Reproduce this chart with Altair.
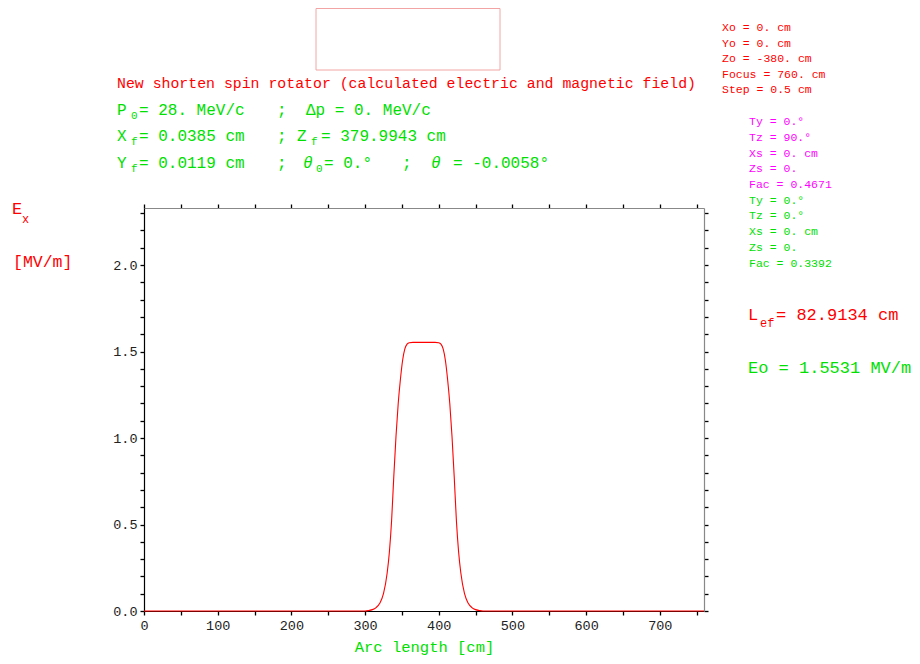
import altair as alt
import pandas as pd

# ---- data ----
arc_cm = [0, 300, 305, 310, 315, 320, 325, 330, 333, 336, 339, 342, 345, 348, 351, 354, 357, 360, 365,
          380, 395, 400, 403, 406, 409, 412, 415, 418, 421, 424, 427, 430, 435, 440, 445, 450, 455, 460, 760]
ex_mvm = [0, 0, 0.003, 0.008, 0.02, 0.045, 0.10, 0.22, 0.34, 0.52, 0.777, 1.01, 1.20, 1.34, 1.45, 1.515, 1.543, 1.551, 1.553,
          1.5531, 1.553, 1.551, 1.543, 1.515, 1.45, 1.34, 1.20, 1.01, 0.777, 0.52, 0.34, 0.22, 0.10, 0.045, 0.02, 0.008, 0.003, 0, 0]
x_ticks = [0, 50, 100, 150, 200, 250, 300, 350, 400, 450, 500, 550, 600, 650, 700, 750]
y_ticks = [0.0, 0.1, 0.2, 0.3, 0.4, 0.5, 0.6, 0.7, 0.8, 0.9, 1.0, 1.1, 1.2, 1.3, 1.4, 1.5,
           1.6, 1.7, 1.8, 1.9, 2.0, 2.1, 2.2, 2.3]

df = pd.DataFrame({"s": arc_cm, "ex": ex_mvm})

FONT = "Liberation Mono"
RED = "#ff0000"
GREEN = "#00e000"
MAG = "#ff00ff"
OX, OY = 144, 208  # page position of the plot origin
W, H = 560, 403

xs = alt.Scale(domain=[0, 760], nice=False, zero=False)
ys = alt.Scale(domain=[0, 2.33], nice=False, zero=False)

common_axis = dict(tickSize=4, tickColor="black", tickWidth=1.3, grid=False,
                   labelFont=FONT, labelFontSize=13.5, labelColor="#222222")

x_bottom = alt.Axis(orient="bottom", values=x_ticks, format="d",
                    labelExpr="datum.value % 100 == 0 ? datum.label : ''",
                    domainColor="black", domainWidth=1.2, labelPadding=3,
                    labelFlush=False, labelOverlap=False,
                    title="Arc length [cm]", titleColor=GREEN, titleFont=FONT,
                    titleFontSize=15.5, titleFontWeight="normal", titlePadding=8,
                    **common_axis)
y_left = alt.Axis(orient="left", values=y_ticks, format=".1f",
                  labelExpr="round(datum.value * 10) % 5 == 0 ? datum.label : ''",
                  domainColor="black", domainWidth=1.2, labelPadding=3,
                  labelFlush=False, labelOverlap=False, title=None, **common_axis)
x_top = alt.Axis(orient="top", values=x_ticks, labels=False, title=None,
                 domainColor="#888888", domainWidth=1.2, **common_axis)
y_right = alt.Axis(orient="right", values=y_ticks, labels=False, title=None,
                   domainColor="#888888", domainWidth=1.2, **common_axis)

curve = alt.Chart(df).mark_line(color=RED, strokeWidth=1.1, interpolate="monotone").encode(
    x=alt.X("s:Q", scale=xs, axis=x_bottom),
    y=alt.Y("ex:Q", scale=ys, axis=y_left),
)
frame = alt.Chart(df).mark_line(strokeOpacity=0).encode(
    x=alt.X("s:Q", scale=xs, axis=x_top),
    y=alt.Y("ex:Q", scale=ys, axis=y_right),
)


def label(text, X, Y, size, color, style="normal"):
    return alt.Chart(alt.Data(values=[{}])).mark_text(
        text=text, font=FONT, fontSize=size, color=color, align="left",
        baseline="middle", fontStyle=style,
    ).encode(x=alt.value(X - OX), y=alt.value(Y - OY))


texts = [
    # header lines
    label("New shorten spin rotator (calculated electric and magnetic field)", 117, 84, 14.85, RED),
    label("P", 117, 110, 16, GREEN), label("0", 131, 116, 11, GREEN),
    label("= 28. MeV/c", 139, 110, 16, GREEN), label(";", 277, 110, 16, GREEN),
    label("Δp = 0. MeV/c", 306, 110, 16, GREEN),
    label("X", 117, 136, 16, GREEN), label("f", 131, 142, 11, GREEN),
    label("= 0.0385 cm", 139, 136, 16, GREEN), label(";", 277, 136, 16, GREEN),
    label("Z", 297, 136, 16, GREEN), label("f", 311, 142, 11, GREEN),
    label("= 379.9943 cm", 321, 136, 16, GREEN),
    label("Y", 117, 163, 16, GREEN), label("f", 131, 169, 11, GREEN),
    label("= 0.0119 cm", 139, 163, 16, GREEN), label(";", 277, 163, 16, GREEN),
    label("θ", 303, 163, 16, GREEN, "italic"), label("0", 316, 169, 11, GREEN),
    label("= 0.°", 324, 163, 16, GREEN), label(";", 402, 163, 16, GREEN),
    label("θ", 431, 163, 16, GREEN, "italic"), label("= -0.0058°", 453, 163, 16, GREEN),
    # right column
    label("Xo = 0. cm", 722, 28, 11.5, RED),
    label("Yo = 0. cm", 722, 43.5, 11.5, RED),
    label("Zo = -380. cm", 722, 59, 11.5, RED),
    label("Focus = 760. cm", 722, 74.5, 11.5, RED),
    label("Step = 0.5 cm", 722, 90, 11.5, RED),
    label("Ty = 0.°", 749, 122, 11.5, MAG),
    label("Tz = 90.°", 749, 137.5, 11.5, MAG),
    label("Xs = 0. cm", 749, 153.5, 11.5, MAG),
    label("Zs = 0.", 749, 169, 11.5, MAG),
    label("Fac = 0.4671", 749, 184.5, 11.5, MAG),
    label("Ty = 0.°", 749, 200.5, 11.5, GREEN),
    label("Tz = 0.°", 749, 216, 11.5, GREEN),
    label("Xs = 0. cm", 749, 232, 11.5, GREEN),
    label("Zs = 0.", 749, 248, 11.5, GREEN),
    label("Fac = 0.3392", 749, 264, 11.5, GREEN),
    label("L", 748, 315, 17, RED), label("ef", 760, 323, 12, RED),
    label("= 82.9134 cm", 776, 315, 17, RED),
    label("Eo = 1.5531 MV/m", 748, 368, 17, GREEN),
    # y axis title
    label("E", 12, 209, 17, RED), label("x", 22, 219, 12, RED),
    label("[MV/m]", 13, 262, 16.5, RED),
]

box = alt.Chart(alt.Data(values=[{}])).mark_rect(
    fillOpacity=0, stroke="#f2a4a4", strokeWidth=1
).encode(x=alt.value(316 - OX), x2=alt.value(500 - OX),
         y=alt.value(8.5 - OY), y2=alt.value(70 - OY))

chart = alt.layer(curve, frame, box, *texts).resolve_axis(
    x="independent", y="independent"
).properties(
    width=W, height=H,
    autosize=alt.AutoSizeParams(type="none"),
    padding={"left": OX - 8, "top": OY - 8, "right": 920 - 16 - (OX - 8) - W,
             "bottom": 664 - 16 - (OY - 8) - H},
    background="white",
).configure_view(strokeWidth=0)

chart.save("out.html", embed_options={"renderer": "svg", "actions": False})
